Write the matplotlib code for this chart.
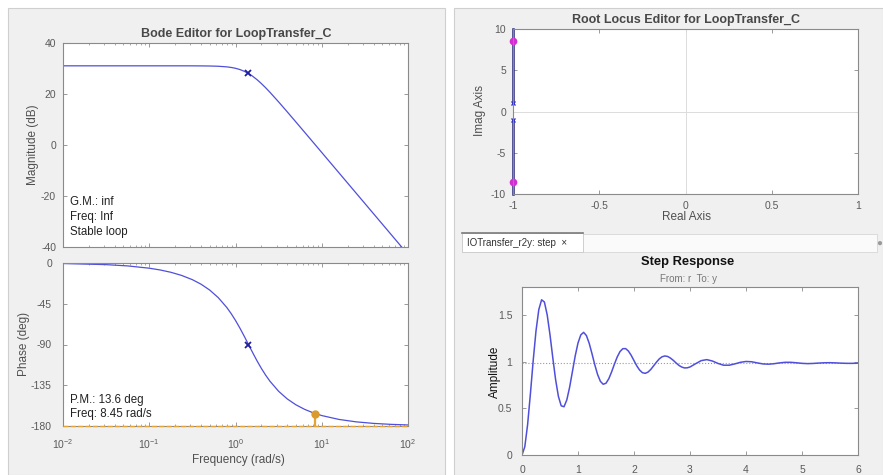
import matplotlib.pyplot as plt
from matplotlib.patches import Rectangle

plt.rcParams['font.family'] = ['Liberation Sans', 'DejaVu Sans']
plt.rcParams['axes.unicode_minus'] = False

W, H = 883, 475

# Bode data
freq = [0.01, 0.0316, 0.0562, 0.1, 0.1334, 0.1778, 0.2371, 0.3162, 0.3981, 0.5012,
        0.631, 0.7943, 0.8913, 1.0, 1.122, 1.259, 1.413, 1.585, 1.778, 1.995,
        2.239, 2.512, 3.162, 3.981, 5.012, 6.31, 7.943, 10.0, 15.85, 25.12,
        39.81, 63.1, 100.0]
mag_db = [31.05, 31.05, 31.05, 31.05, 31.05, 31.05, 31.05, 31.04, 31.02, 30.98,
          30.88, 30.64, 30.41, 30.08, 29.60, 28.93, 28.05, 26.94, 25.61, 24.09,
          22.43, 20.65, 16.90, 13.00, 9.04, 5.06, 1.07, -2.93, -10.93, -18.93,
          -26.93, -34.93, -42.93]
phase_deg = [-0.57, -1.81, -3.22, -5.74, -7.67, -10.24, -13.71, -18.41, -23.38, -29.82,
             -38.23, -49.25, -55.93, -63.43, -71.72, -80.64, -89.9, -99.17, -108.10, -116.40,
             -123.93, -130.63, -141.67, -150.10, -156.56, -161.55, -165.43, -168.47, -172.75, -175.43,
             -177.12, -178.18, -178.85]
pole_freq = [1.413]
pole_mag = [28.05]
pole_phase = [-90.0]
pm_freq = [8.45]
pm_phase = [-166.4]

# Root locus data
locus_re_up, locus_im_up = [-1.0, -1.0], [1.0, 10.0]
locus_re_dn, locus_im_dn = [-1.0, -1.0], [-1.0, -10.0]
ol_re, ol_im = [-1.0, -1.0], [1.0, -1.0]
cl_re, cl_im = [-1.0, -1.0], [8.5, -8.5]

# Step response data
t_step = [0.00, 0.05, 0.10, 0.15, 0.20, 0.25, 0.30, 0.35, 0.40, 0.45,
          0.50, 0.55, 0.60, 0.65, 0.70, 0.75, 0.80, 0.85, 0.90, 0.95,
          1.00, 1.05, 1.10, 1.15, 1.20, 1.25, 1.30, 1.35, 1.40, 1.45,
          1.50, 1.55, 1.60, 1.65, 1.70, 1.75, 1.80, 1.85, 1.90, 1.95,
          2.00, 2.05, 2.10, 2.15, 2.20, 2.25, 2.30, 2.35, 2.40, 2.45,
          2.50, 2.55, 2.60, 2.65, 2.70, 2.75, 2.80, 2.85, 2.90, 2.95,
          3.0, 3.1, 3.2, 3.3, 3.4, 3.5, 3.6, 3.7, 3.8, 3.9,
          4.0, 4.1, 4.2, 4.3, 4.4, 4.5, 4.6, 4.7, 4.8, 4.9,
          5.0, 5.1, 5.2, 5.3, 5.4, 5.5, 5.6, 5.7, 5.8, 5.9, 6.0]
y_step = [0.000, 0.088, 0.325, 0.655, 1.012, 1.330, 1.558, 1.663, 1.639, 1.501,
          1.288, 1.041, 0.808, 0.628, 0.527, 0.517, 0.590, 0.725, 0.893, 1.061,
          1.200, 1.287, 1.314, 1.280, 1.197, 1.085, 0.966, 0.862, 0.789, 0.758,
          0.769, 0.817, 0.890, 0.973, 1.050, 1.108, 1.139, 1.140, 1.114, 1.068,
          1.011, 0.955, 0.910, 0.882, 0.875, 0.888, 0.917, 0.955, 0.994, 1.029,
          1.052, 1.061, 1.056, 1.039, 1.015, 0.987, 0.961, 0.943, 0.933, 0.934,
          0.943, 0.978, 1.011, 1.022, 1.007, 0.981, 0.962, 0.962, 0.976, 0.993,
          1.002, 0.999, 0.987, 0.976, 0.973, 0.978, 0.987, 0.993, 0.993, 0.988,
          0.982, 0.979, 0.981, 0.985, 0.988, 0.989, 0.987, 0.984, 0.982, 0.982, 0.984]
y_final = 0.99

line_blue = '#4f4fdb'
tick_gray = '#5a5a5a'
label_gray = '#505050'


def box(x0, y0, x1, y1):
    # pixel box -> figure fraction [left, bottom, width, height]
    return [x0 / W, 1 - y1 / H, (x1 - x0) / W, (y1 - y0) / H]


def ftext(x, y, s, **kw):
    fig.text(x / W, 1 - y / H, s, ha=kw.pop('ha', 'center'), va=kw.pop('va', 'center'), **kw)


def style(ax, ypad=8, xpad=6):
    for sp in ax.spines.values():
        sp.set_color('#8a8a8a')
        sp.set_linewidth(0.8)
    ax.tick_params(which='both', direction='in', top=True, right=True,
                   color='#8a8a8a', labelsize=7.5, labelcolor=tick_gray)
    ax.tick_params(axis='y', pad=ypad)
    ax.tick_params(axis='x', pad=xpad)
    ax.tick_params(which='major', length=3, width=0.6)
    ax.tick_params(which='minor', length=1.5, width=0.5)


fig = plt.figure(figsize=(W / 100, H / 100), dpi=100)
fig.patch.set_facecolor('white')

# window panels
for x0, x1 in [(8, 445), (454, 883)]:
    fig.add_artist(Rectangle((x0 / W, 0), (x1 - x0) / W, 1 - 8 / H, transform=fig.transFigure,
                             facecolor='#f0f0f0', edgecolor='#cfcfcf', lw=0.8, zorder=-2))
# tab strip of the step response panel
fig.add_artist(Rectangle((462 / W, 1 - 252 / H), (877 - 462) / W, 18 / H, transform=fig.transFigure,
                         facecolor='#fafafa', edgecolor='#d6d6d6', lw=0.6, zorder=-1))
fig.add_artist(Rectangle((462 / W, 1 - 252 / H), (583 - 462) / W, 19 / H, transform=fig.transFigure,
                         facecolor='white', edgecolor='#c8c8c8', lw=0.6, zorder=-1))
fig.add_artist(plt.Line2D([462 / W, 583 / W], [1 - 233 / H, 1 - 233 / H], transform=fig.transFigure,
                          color='#7a7a7a', lw=1.2, zorder=-1))
ftext(467, 243, 'IOTransfer_r2y: step  \u00d7', ha='left', fontsize=7, color='#333333')
ftext(879, 243, '\u25cf', fontsize=7, color='#9a9a9a')

# ---- Bode magnitude ----
ax_m = fig.add_axes(box(63, 43, 408, 247))
ax_m.semilogx(freq, mag_db, color=line_blue, lw=0.9)
ax_m.plot(pole_freq, pole_mag, 'x', color='#2020a0', ms=4.5, mew=1.3)
ax_m.set_xlim(0.01, 100)
ax_m.set_ylim(-40, 40)
ax_m.set_yticks([-40, -20, 0, 20, 40])
ax_m.tick_params(labelbottom=False)
style(ax_m, ypad=5)
for yy, s in [(202, 'G.M.: inf'), (217, 'Freq: Inf'), (232, 'Stable loop')]:
    ftext(70, yy, s, ha='left', fontsize=8.3, color='#222222')

# ---- Bode phase ----
ax_p = fig.add_axes(box(63, 263, 408, 426))
ax_p.axhline(-180, color='#e3a537', ls='--', lw=1.0, zorder=3, clip_on=False)
ax_p.vlines(pm_freq, -180, pm_phase, color='#e3a537', lw=1.6)
ax_p.semilogx(freq, phase_deg, color=line_blue, lw=0.9)
ax_p.plot(pole_freq, pole_phase, 'x', color='#2020a0', ms=4.5, mew=1.3)
ax_p.plot(pm_freq, pm_phase, 'o', color='#d99a2e', ms=5)
ax_p.set_xlim(0.01, 100)
ax_p.set_ylim(-180, 0)
ax_p.set_yticks([-180, -135, -90, -45, 0])
ax_p.set_xticks([0.01, 0.1, 1, 10, 100])
style(ax_p, ypad=8, xpad=8)
for yy, s in [(400, 'P.M.: 13.6 deg'), (414, 'Freq: 8.45 rad/s')]:
    ftext(70, yy, s, ha='left', fontsize=8.3, color='#222222')

ftext(236, 34, 'Bode Editor for LoopTransfer_C', fontsize=9, fontweight='bold', color='#484848')
ftext(33, 145, 'Magnitude (dB)', rotation=90, fontsize=8.5, color=label_gray)
ftext(24, 344, 'Phase (deg)', rotation=90, fontsize=8.5, color=label_gray)
ftext(238, 460, 'Frequency (rad/s)', fontsize=8.5, color=label_gray)

# ---- Root locus ----
ax_r = fig.add_axes(box(513, 29, 858, 194))
ax_r.set_facecolor('white')
ax_r.axhline(0, color='#dcdcdc', lw=0.7)
ax_r.axvline(0, color='#dcdcdc', lw=0.7)
ax_r.plot(locus_re_up, locus_im_up, color='#23237a', lw=1.8, clip_on=False)
ax_r.plot(locus_re_dn, locus_im_dn, color='#23237a', lw=1.8, clip_on=False)
ax_r.plot(ol_re, ol_im, 'x', color='#3030c0', ms=3.5, mew=1, clip_on=False)
ax_r.plot(cl_re, cl_im, 'o', color='#d52bd5', ms=4.5, clip_on=False)
ax_r.set_xlim(-1, 1)
ax_r.set_ylim(-10, 10)
ax_r.set_xticks([-1, -0.5, 0, 0.5, 1])
ax_r.set_xticklabels(['-1', '-0.5', '0', '0.5', '1'])
ax_r.set_yticks([-10, -5, 0, 5, 10])
style(ax_r, ypad=5, xpad=5)
ftext(686, 20, 'Root Locus Editor for LoopTransfer_C', fontsize=9, fontweight='bold', color='#484848')
ftext(480, 111, 'Imag Axis', rotation=90, fontsize=8.5, color=label_gray)
ftext(686, 217, 'Real Axis', fontsize=8.5, color=label_gray)

# ---- Step response ----
ax_s = fig.add_axes(box(522, 287, 858, 455))
ax_s.axhline(y_final, color='#9a9a9a', ls=':', lw=0.8)
ax_s.plot(t_step, y_step, color=line_blue, lw=1.1)
ax_s.set_xlim(0, 6)
ax_s.set_ylim(0, 1.8)
ax_s.set_yticks([0, 0.5, 1, 1.5])
ax_s.set_yticklabels(['0', '0.5', '1', '1.5'])
ax_s.set_xticks([0, 1, 2, 3, 4, 5, 6])
style(ax_s, ypad=7, xpad=7)
ftext(688, 262, 'Step Response', fontsize=9.3, fontweight='bold', color='#111111')
ftext(688, 279, 'From: r  To: y', fontsize=7, color='#777777')
ftext(495, 372, 'Amplitude', rotation=90, fontsize=8.5, color='#111111')

fig.savefig('out.png', dpi=100)
